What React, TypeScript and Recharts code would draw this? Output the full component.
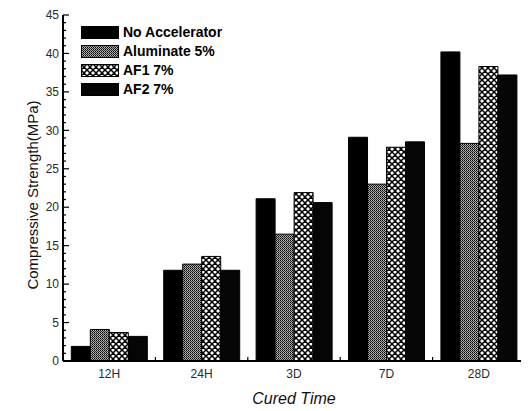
import React from 'react';
import { BarChart, Bar, XAxis, YAxis, Legend, Label } from 'recharts';

const categories = ['12H', '24H', '3D', '7D', '28D'];
const noAccelerator = [1.9, 11.8, 21.1, 29.1, 40.2];
const aluminate5 = [4.1, 12.6, 16.5, 23.0, 28.3];
const af1 = [3.7, 13.6, 21.9, 27.8, 38.3];
const af2 = [3.2, 11.8, 20.6, 28.5, 37.2];
const seriesNames = ['No Accelerator', 'Aluminate 5%', 'AF1 7%', 'AF2 7%'];
const seriesKeys = ['noAcc', 'alum', 'af1', 'af2'];
const seriesFills = ['#000000', 'url(#patAlum)', 'url(#patAf1)', '#050505'];
const yMajorTicks = [0, 5, 10, 15, 20, 25, 30, 35, 40, 45];
const yAllTicks = Array.from({ length: 46 }, (_, i) => i);

const data = categories.map((c, i) => ({
  cat: c,
  noAcc: noAccelerator[i],
  alum: aluminate5[i],
  af1: af1[i],
  af2: af2[i],
}));

const FONT = 'Arial, "Liberation Sans", Helvetica, sans-serif';

const YTick = (props: any) => {
  const { x, y, payload } = props;
  const v = payload.value;
  const major = yMajorTicks.includes(v);
  return (
    <g>
      <line x1={x} y1={y} x2={x + (major ? 6 : 3)} y2={y} stroke="#000" strokeWidth={1.2} />
      {major && (
        <text x={x - 4} y={y} dy="0.35em" textAnchor="end" fontSize={12} fill="#2a2a2a" fontFamily={FONT}>
          {v}
        </text>
      )}
    </g>
  );
};

const XTick = (props: any) => {
  const { x, y, payload } = props;
  const half = payload && payload.offset ? payload.offset : 0;
  return (
    <g>
      <line x1={x + half} y1={y} x2={x + half} y2={y - 4} stroke="#000" strokeWidth={1.2} />
      <text x={x} y={y + 8} dy="0.71em" textAnchor="middle" fontSize={12} fill="#2a2a2a" fontFamily={FONT}>
        {payload.value}
      </text>
    </g>
  );
};

const LegendContent = () => (
  <div style={{ fontFamily: FONT, fontWeight: 'bold', fontSize: 14, color: '#000' }}>
    {seriesNames.map((n, i) => (
      <div key={n} style={{ display: 'flex', alignItems: 'center', height: 19 }}>
        <svg width={38} height={13} style={{ display: 'block' }}>
          <rect x={0.5} y={0.5} width={37} height={12} fill={seriesFills[i]} stroke="#000" strokeWidth={1} />
        </svg>
        <span style={{ marginLeft: 4, lineHeight: '19px' }}>{n}</span>
      </div>
    ))}
  </div>
);

export default function App() {
  return (
    <div style={{ width: 521, height: 403 }}>
      <BarChart
        width={521}
        height={403}
        data={data}
        margin={{ top: 7, right: 4, left: 0, bottom: 0 }}
        barCategoryGap="9%"
        barGap={0}
        style={{ fontFamily: FONT }}
      >
        <defs>
          <pattern id="patAlum" patternUnits="userSpaceOnUse" width={2} height={2}>
            <rect x={0} y={0} width={1} height={1} fill="#000" />
            <rect x={1} y={0} width={1} height={1} fill="#bbbbbb" />
            <rect x={0} y={1} width={1} height={1} fill="#999999" />
            <rect x={1} y={1} width={1} height={1} fill="#333333" />
          </pattern>
          <pattern id="patAf1" patternUnits="userSpaceOnUse" width={6} height={6}>
            <rect x={0} y={0} width={6} height={6} fill="#ffffff" />
            <path d="M0,0 L6,6 M6,0 L0,6 M-3,3 L3,-3 M3,9 L9,3 M-3,3 L3,9 M3,-3 L9,3" stroke="#000" strokeWidth={1.5} />
          </pattern>
        </defs>
        <XAxis
          dataKey="cat"
          height={50}
          tickLine={false}
          tickSize={0}
          tickMargin={0}
          tick={<XTick />}
          interval={0}
          axisLine={{ stroke: '#000', strokeWidth: 2 }}
        >
          <Label
            content={(p: any) => {
              const vb = p.viewBox;
              const cx = vb.x + vb.width / 2;
              const cy = vb.y + 37;
              return (
                <text x={cx} y={cy} dy="0.35em" textAnchor="middle" fontSize={16} fontStyle="italic" fill="#111" fontFamily={FONT}>
                  Cured Time
                </text>
              );
            }}
          />
        </XAxis>
        <YAxis
          width={55}
          domain={[0, 45]}
          ticks={yAllTicks}
          interval={0}
          type="number"
          allowDataOverflow
          tickLine={false}
          tickSize={0}
          tickMargin={0}
          tick={<YTick />}
          axisLine={{ stroke: '#000', strokeWidth: 2 }}
        >
          <Label
            content={(p: any) => {
              const vb = p.viewBox;
              const cx = vb.x + 25;
              const cy = vb.y + vb.height / 2 + 7;
              return (
                <text
                  x={cx}
                  y={cy}
                  dy="0.35em"
                  transform={`rotate(-90 ${cx} ${cy})`}
                  textAnchor="middle"
                  fontSize={15}
                  fill="#111"
                  fontFamily={FONT}
                >
                  Compressive Strength(MPa)
                </text>
              );
            }}
          />
        </YAxis>
        <Legend
          layout="vertical"
          align="center"
          verticalAlign="middle"
          content={<LegendContent />}
          wrapperStyle={{ left: 73, top: 15, width: 'auto', height: 'auto' }}
        />
        {seriesKeys.map((k, i) => (
          <Bar
            key={k}
            dataKey={k}
            name={seriesNames[i]}
            fill={seriesFills[i]}
            stroke="#000"
            strokeWidth={1}
            isAnimationActive={false}
          />
        ))}
      </BarChart>
    </div>
  );
}
